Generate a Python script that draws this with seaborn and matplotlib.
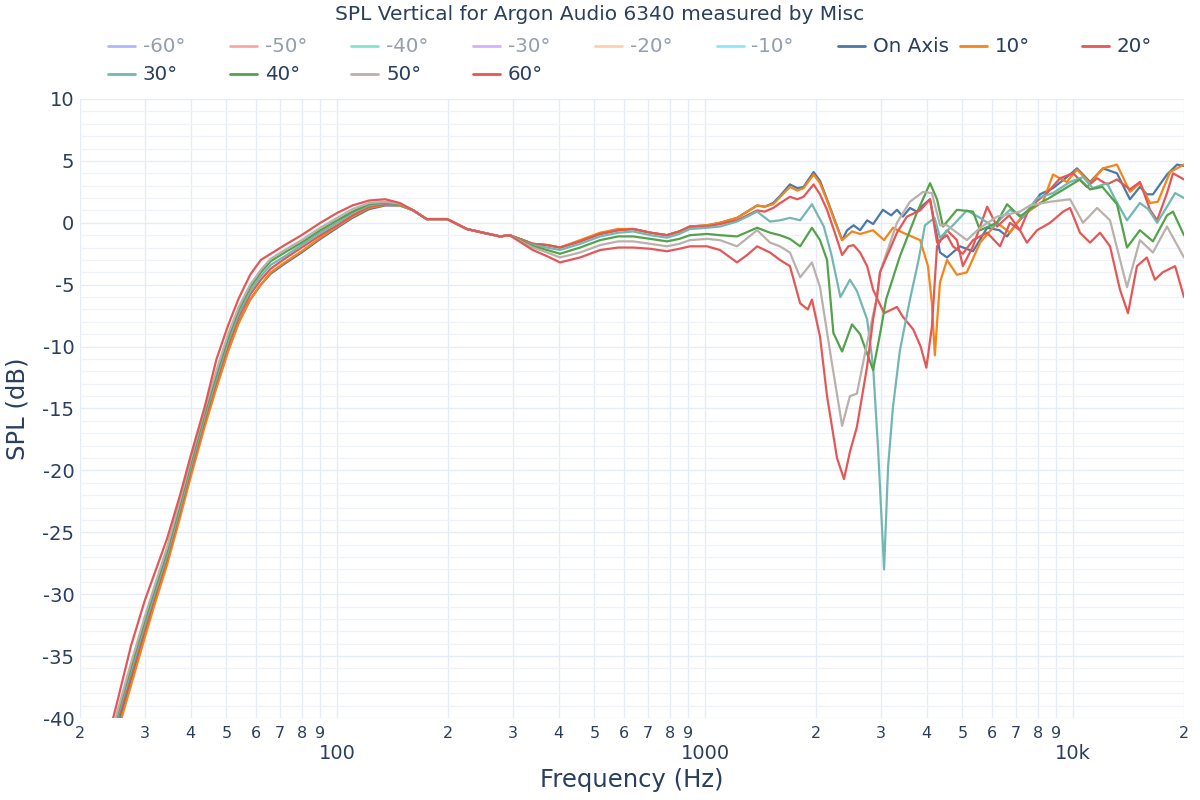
import pandas as pd
import matplotlib
matplotlib.use("Agg")
import matplotlib.pyplot as plt
import seaborn as sns
from matplotlib.ticker import FixedLocator, FixedFormatter, MultipleLocator
from matplotlib.lines import Line2D

# ---- data ----
freq_low = [20, 22.5, 25.2, 27.5, 30, 32, 34.5, 37.4, 40, 43.7, 47, 50.5, 54, 58, 62, 66, 72, 80, 90,
            100, 110, 122, 135, 148, 161, 175, 199, 225, 249, 277, 294, 320, 340, 372, 403, 457, 518,
            580, 637, 710, 787, 850]

spl_low_on = [-52, -46.5, -40.8, -37, -33.2, -30.4, -27.4, -23.6, -20.3, -16.2, -13.2, -10.3, -8.0, -6.2,
              -5.0, -4.1, -3.3, -2.4, -1.3, -0.4, 0.4, 1.1, 1.4, 1.4, 1.0, 0.3, 0.3, -0.5, -0.8, -1.1,
              -1.0, -1.4, -1.7, -1.8, -2.0, -1.5, -0.9, -0.6, -0.5, -0.8, -1.0, -0.7]
spl_low_10 = [-52.5, -47, -41.3, -37.4, -33.5, -30.7, -27.6, -23.8, -20.5, -16.4, -13.3, -10.4, -8.1, -6.2,
              -5.0, -4.0, -3.2, -2.3, -1.2, -0.3, 0.5, 1.2, 1.45, 1.4, 1.0, 0.3, 0.3, -0.5, -0.8, -1.1,
              -1.0, -1.4, -1.7, -1.8, -2.0, -1.4, -0.8, -0.5, -0.5, -0.8, -1.0, -0.7]
spl_low_20 = [-51.5, -46, -40.4, -36.6, -32.8, -30.1, -27.1, -23.3, -20.0, -15.9, -12.8, -9.9, -7.6, -5.8,
              -4.6, -3.7, -2.9, -2.0, -1.0, -0.2, 0.6, 1.3, 1.5, 1.45, 1.0, 0.3, 0.3, -0.5, -0.8, -1.1,
              -1.0, -1.4, -1.7, -1.8, -2.0, -1.5, -0.9, -0.6, -0.5, -0.8, -1.0, -0.7]
spl_low_30 = [-51.2, -45.7, -40.0, -36.2, -32.4, -29.8, -26.8, -23.0, -19.7, -15.6, -12.5, -9.6, -7.3, -5.5,
              -4.3, -3.4, -2.7, -1.8, -0.8, 0.0, 0.8, 1.4, 1.6, 1.5, 1.0, 0.3, 0.3, -0.5, -0.8, -1.1,
              -1.0, -1.5, -1.8, -2.0, -2.2, -1.7, -1.1, -0.8, -0.7, -1.0, -1.2, -0.9]
spl_low_40 = [-51, -45.4, -39.8, -35.9, -32.1, -29.5, -26.5, -22.7, -19.4, -15.3, -12.2, -9.3, -7.0, -5.2,
              -4.0, -3.1, -2.4, -1.6, -0.6, 0.2, 0.9, 1.5, 1.65, 1.5, 1.0, 0.3, 0.3, -0.5, -0.8, -1.1,
              -1.0, -1.5, -1.9, -2.2, -2.5, -2.0, -1.4, -1.1, -1.1, -1.3, -1.5, -1.3]
spl_low_50 = [-50.8, -45.2, -39.6, -35.6, -31.8, -29.2, -26.2, -22.4, -19.1, -15.0, -11.9, -9.0, -6.8, -5.0,
              -3.8, -2.9, -2.2, -1.4, -0.4, 0.4, 1.1, 1.6, 1.7, 1.55, 1.0, 0.3, 0.3, -0.5, -0.8, -1.1,
              -1.0, -1.6, -2.0, -2.4, -2.8, -2.4, -1.8, -1.5, -1.5, -1.7, -1.9, -1.7]
spl_low_60 = [-50, -44.5, -38.8, -34.2, -30.5, -28.2, -25.5, -22.0, -18.8, -14.8, -11.0, -8.3, -6.1, -4.2,
              -3.0, -2.5, -1.8, -1.0, 0.0, 0.8, 1.4, 1.8, 1.9, 1.6, 1.0, 0.3, 0.3, -0.5, -0.8, -1.1,
              -1.0, -1.7, -2.2, -2.7, -3.2, -2.8, -2.2, -2.0, -2.0, -2.1, -2.3, -2.1]

freq_hi_on = [909, 1012, 1097, 1220, 1300, 1384, 1450, 1530, 1600, 1699, 1780, 1850, 1970, 2050, 2143,
              2250, 2355, 2430, 2530, 2636, 2754, 2860, 3040, 3200, 3319, 3445, 3600, 3758, 3900, 4083,
              4230, 4345, 4540, 4921, 5341, 5837, 6300, 6608, 7035, 7630, 8124, 8812, 9622, 10240,
              11110, 12050, 13150, 14260, 15180, 15850, 16470, 17980, 19150, 20000]
spl_hi_on = [-0.3, -0.2, 0.0, 0.4, 0.9, 1.4, 1.3, 1.6, 2.2, 3.1, 2.8, 2.9, 4.1, 3.4, 1.9,
             0.2, -1.4, -0.6, -0.2, -0.6, 0.2, -0.1, 1.05, 0.6, 1.05, 0.5, 1.2, 0.9, 1.4, 1.9,
             -0.5, -2.4, -2.8, -1.9, -2.3, -0.4, -0.6, -1.1, 0.0, 1.05, 2.3, 2.8, 3.7, 4.4,
             3.3, 4.4, 4.0, 1.9, 2.9, 2.3, 2.3, 3.9, 4.7, 4.6]

freq_hi_10 = [909, 1012, 1097, 1220, 1300, 1384, 1450, 1530, 1600, 1699, 1780, 1850, 1970, 2050, 2143,
              2250, 2355, 2505, 2636, 2859, 3062, 3237, 3445, 3700, 3837, 4030, 4130, 4207, 4290, 4345,
              4540, 4831, 5140, 5584, 6211, 6731, 7299, 7800, 8277, 8812, 9600, 10240, 11110, 12050,
              13150, 14260, 15180, 16170, 16980, 18330, 20000]
spl_hi_10 = [-0.3, -0.2, 0.0, 0.4, 0.9, 1.4, 1.3, 1.5, 2.1, 2.9, 2.6, 2.8, 3.9, 3.2, 1.8,
             0.1, -1.4, -0.7, -0.9, -0.6, -1.4, -0.4, -0.8, -1.2, -1.4, -3.5, -6.5, -10.7, -7.0, -4.8,
             -3.0, -4.2, -4.0, -1.6, 0.0, -0.8, 0.6, 1.2, 1.7, 3.9, 3.3, 4.3, 3.2, 4.4,
             4.7, 2.5, 3.2, 1.6, 1.7, 4.1, 4.7]

freq_hi_20 = [909, 1012, 1097, 1220, 1300, 1384, 1450, 1530, 1600, 1699, 1780, 1850, 1970, 2050, 2143,
              2250, 2355, 2450, 2530, 2636, 2754, 2859, 2985, 3062, 3319, 3445, 3673, 3850, 3990, 4130,
              4265, 4540, 4831, 5013, 5341, 5837, 6211, 6700, 7166, 7630, 8487, 9210, 9990, 10890,
              11600, 12360, 13150, 14260, 15180, 16170, 16900, 17980, 18670, 20000]
spl_hi_20 = [-0.3, -0.3, -0.1, 0.2, 0.6, 1.0, 0.9, 1.2, 1.6, 2.1, 1.9, 2.1, 3.1, 2.3, 1.05,
             -0.8, -2.6, -1.9, -1.8, -2.4, -3.5, -5.4, -6.6, -7.3, -6.8, -7.6, -8.6, -10.0, -11.7, -8.4,
             -1.9, -0.6, -1.4, -3.5, -1.9, 1.3, -0.3, 0.6, -0.6, 1.3, 2.4, 3.6, 4.0, 2.9,
             3.6, 3.1, 3.5, 2.7, 3.3, 1.05, 0.2, 2.4, 4.0, 3.5]

freq_hi_30 = [909, 1012, 1097, 1220, 1300, 1384, 1500, 1596, 1699, 1811, 1950, 2100, 2200, 2330, 2473,
              2583, 2754, 2859, 2950, 3062, 3140, 3237, 3381, 3600, 3800, 3955, 4200, 4345, 4711, 5140,
              5584, 6056, 6731, 7300, 7975, 8812, 9804, 10630, 11300, 12360, 13000, 14000, 15180,
              16000, 16900, 17980, 18920, 20000]
spl_hi_30 = [-0.5, -0.4, -0.3, 0.1, 0.5, 0.9, 0.1, 0.2, 0.4, 0.2, 1.5, -0.3, -2.5, -6.0, -4.6,
             -5.5, -7.8, -11.6, -18.3, -28.0, -19.7, -14.9, -10.3, -6.2, -3.0, -0.2, 0.4, -1.2, -0.2, 1.0,
             0.4, -0.3, 1.05, 0.5, 2.0, 2.4, 3.3, 3.7, 2.8, 3.2, 1.9, 0.2, 1.6,
             1.1, 0.0, 1.3, 2.4, 2.0]

freq_hi_40 = [909, 1012, 1097, 1220, 1384, 1500, 1596, 1699, 1811, 1950, 2051, 2143, 2230, 2355, 2505,
              2636, 2859, 2985, 3100, 3381, 3758, 4083, 4265, 4427, 4831, 5341, 5584, 6200, 6608, 7166,
              7700, 8487, 9300, 10430, 11110, 12000, 13150, 14000, 15180, 16470, 17980, 18670, 20000]
spl_hi_40 = [-1.0, -0.9, -1.0, -1.1, -0.4, -0.8, -1.0, -1.3, -1.9, -0.4, -1.4, -3.0, -8.9, -10.4, -8.2,
             -9.0, -11.9, -9.0, -6.2, -2.7, 0.8, 3.2, 1.9, -0.3, 1.05, 0.9, -0.6, 0.0, 1.5, 0.5,
             1.2, 1.9, 2.6, 3.5, 2.7, 2.9, 1.5, -2.0, -0.6, -1.5, 0.6, 0.9, -1.0]

freq_hi_50 = [909, 1012, 1097, 1220, 1384, 1500, 1596, 1699, 1811, 1950, 2051, 2200, 2355, 2473, 2583,
              2754, 2929, 2985, 3319, 3600, 3909, 4130, 4345, 4540, 5140, 5584, 6211, 7166, 7630, 8649,
              9804, 10630, 11610, 12590, 14000, 15180, 16470, 17980, 20000]
spl_hi_50 = [-1.4, -1.3, -1.4, -1.9, -0.6, -1.6, -1.9, -2.4, -4.4, -3.2, -5.2, -11.0, -16.4, -14.0, -13.8,
             -9.7, -6.0, -4.0, 0.0, 1.7, 2.5, 2.4, -0.2, -0.2, -1.4, -0.4, 0.5, 0.9, 1.4, 1.7,
             1.9, 0.0, 1.2, 0.2, -5.2, -1.4, -2.4, -0.3, -2.8]

freq_hi_60 = [909, 1012, 1097, 1220, 1300, 1384, 1500, 1596, 1699, 1811, 1900, 1950, 2051, 2143, 2281,
              2383, 2473, 2583, 2754, 2859, 2929, 2985, 3319, 3533, 3837, 4083, 4265, 4540, 4711, 5013,
              5341, 5837, 6325, 6731, 7166, 7484, 7975, 8649, 9385, 9804, 10430, 11110, 11830, 12590,
              13400, 14090, 14900, 15850, 16670, 17500, 18920, 20000]
spl_hi_60 = [-1.9, -1.9, -2.2, -3.2, -2.6, -1.9, -2.4, -3.0, -3.5, -6.5, -7.0, -6.2, -9.2, -14.0, -19.0,
             -20.7, -18.5, -16.5, -11.6, -7.8, -6.0, -4.0, -0.8, 0.5, 1.0, 1.9, -1.6, -1.0, -1.9, -2.5,
             -1.4, -0.8, -1.9, 0.0, -0.6, -1.6, -0.6, 0.0, 0.9, 1.2, -0.8, -1.6, -0.8, -1.9,
             -5.4, -7.3, -3.5, -2.8, -4.6, -4.0, -3.5, -6.0]

hidden_names = ["-60°", "-50°", "-40°", "-30°", "-20°", "-10°"]
hidden_colors = ["#636EFA", "#EF553B", "#00CC96", "#AB63FA", "#FFA15A", "#19D3F3"]
shown_names = ["On Axis", "10°", "20°", "30°", "40°", "50°", "60°"]
shown_colors = ["#4C78A8", "#F58518", "#E45756", "#72B7B2", "#54A24B", "#BAB0AC", "#E45756"]

x_minor = [20, 30, 40, 50, 60, 70, 80, 90, 200, 300, 400, 500, 600, 700, 800, 900,
           2000, 3000, 4000, 5000, 6000, 7000, 8000, 9000, 20000]
x_minor_labels = ["2", "3", "4", "5", "6", "7", "8", "9", "2", "3", "4", "5", "6", "7", "8", "9",
                  "2", "3", "4", "5", "6", "7", "8", "9", "2"]
x_major = [100, 1000, 10000]
x_major_labels = ["100", "1000", "10k"]

# ---- long table for seaborn ----
parts = [
    ("On Axis", freq_low + freq_hi_on, spl_low_on + spl_hi_on),
    ("10°", freq_low + freq_hi_10, spl_low_10 + spl_hi_10),
    ("20°", freq_low + freq_hi_20, spl_low_20 + spl_hi_20),
    ("30°", freq_low + freq_hi_30, spl_low_30 + spl_hi_30),
    ("40°", freq_low + freq_hi_40, spl_low_40 + spl_hi_40),
    ("50°", freq_low + freq_hi_50, spl_low_50 + spl_hi_50),
    ("60°", freq_low + freq_hi_60, spl_low_60 + spl_hi_60),
]
df = pd.concat([pd.DataFrame({"freq": f, "spl": s, "angle": n}) for n, f, s in parts],
               ignore_index=True)

sns.set_theme(style="white")
plt.rcParams["font.family"] = ["DejaVu Sans"]
plt.rcParams["axes.unicode_minus"] = False

text_col = "#2a3f5f"
W, H = 1200, 800

fig = plt.figure(figsize=(12, 8), dpi=100)
ax = fig.add_axes([80 / W, 1 - 718 / H, 1104 / W, 619 / H])

sns.lineplot(data=df, x="freq", y="spl", hue="angle", hue_order=shown_names,
             palette=dict(zip(shown_names, shown_colors)), estimator=None, sort=True,
             legend=False, linewidth=1.6, ax=ax)

ax.set_xscale("log")
ax.set_xlim(20, 20000)
ax.set_ylim(-40, 10)
for sp in ax.spines.values():
    sp.set_visible(False)

ax.xaxis.set_major_locator(FixedLocator(x_major))
ax.xaxis.set_major_formatter(FixedFormatter(x_major_labels))
ax.xaxis.set_minor_locator(FixedLocator(x_minor))
ax.xaxis.set_minor_formatter(FixedFormatter(x_minor_labels))
ax.set_yticks(range(-40, 11, 5))
ax.set_yticklabels([str(v) for v in range(-40, 11, 5)])
ax.yaxis.set_minor_locator(MultipleLocator(1))

ax.set_axisbelow(True)
ax.grid(which="major", color="#e6ecf5", linewidth=1)
ax.grid(which="minor", axis="x", color="#e6ecf5", linewidth=1)
ax.grid(which="minor", axis="y", color="#eff3f9", linewidth=0.9)

ax.tick_params(axis="both", which="both", length=0, colors=text_col)
ax.tick_params(axis="y", which="major", labelsize=14, pad=4)
ax.tick_params(axis="x", which="minor", labelsize=11.5, pad=6)
ax.tick_params(axis="x", which="major", labelsize=14, pad=19)

ax.set_xlabel("Frequency (Hz)", fontsize=17.5, color=text_col)
ax.set_ylabel("SPL (dB)", fontsize=17.5, color=text_col)
ax.xaxis.set_label_coords(0.5, -(780 - 718) / 619)
ax.yaxis.set_label_coords(-(80 - 17) / 1104, 0.5)
ax.xaxis.label.set_va("center")
ax.yaxis.label.set_va("center")

fig.text(0.5, 1 - 15 / H, "SPL Vertical for Argon Audio 6340 measured by Misc",
         ha="center", va="center", fontsize=14.5, color=text_col)

# ---- legend, laid out like the plotly horizontal legend ----
names = hidden_names + shown_names
colors = hidden_colors + shown_colors
for i, (n, c) in enumerate(zip(names, colors)):
    col, row = i % 9, i // 9
    x0 = 108 + col * 121.7
    y0 = 46 + row * 28
    a = 0.5 if i < len(hidden_names) else 1.0
    fig.add_artist(Line2D([x0 / W, (x0 + 27) / W], [1 - y0 / H, 1 - y0 / H],
                          transform=fig.transFigure, color=c, lw=2, alpha=a))
    fig.text((x0 + 35) / W, 1 - y0 / H, n, ha="left", va="center",
             fontsize=14.3, color=text_col, alpha=a)

fig.savefig("out.png", dpi=100)
